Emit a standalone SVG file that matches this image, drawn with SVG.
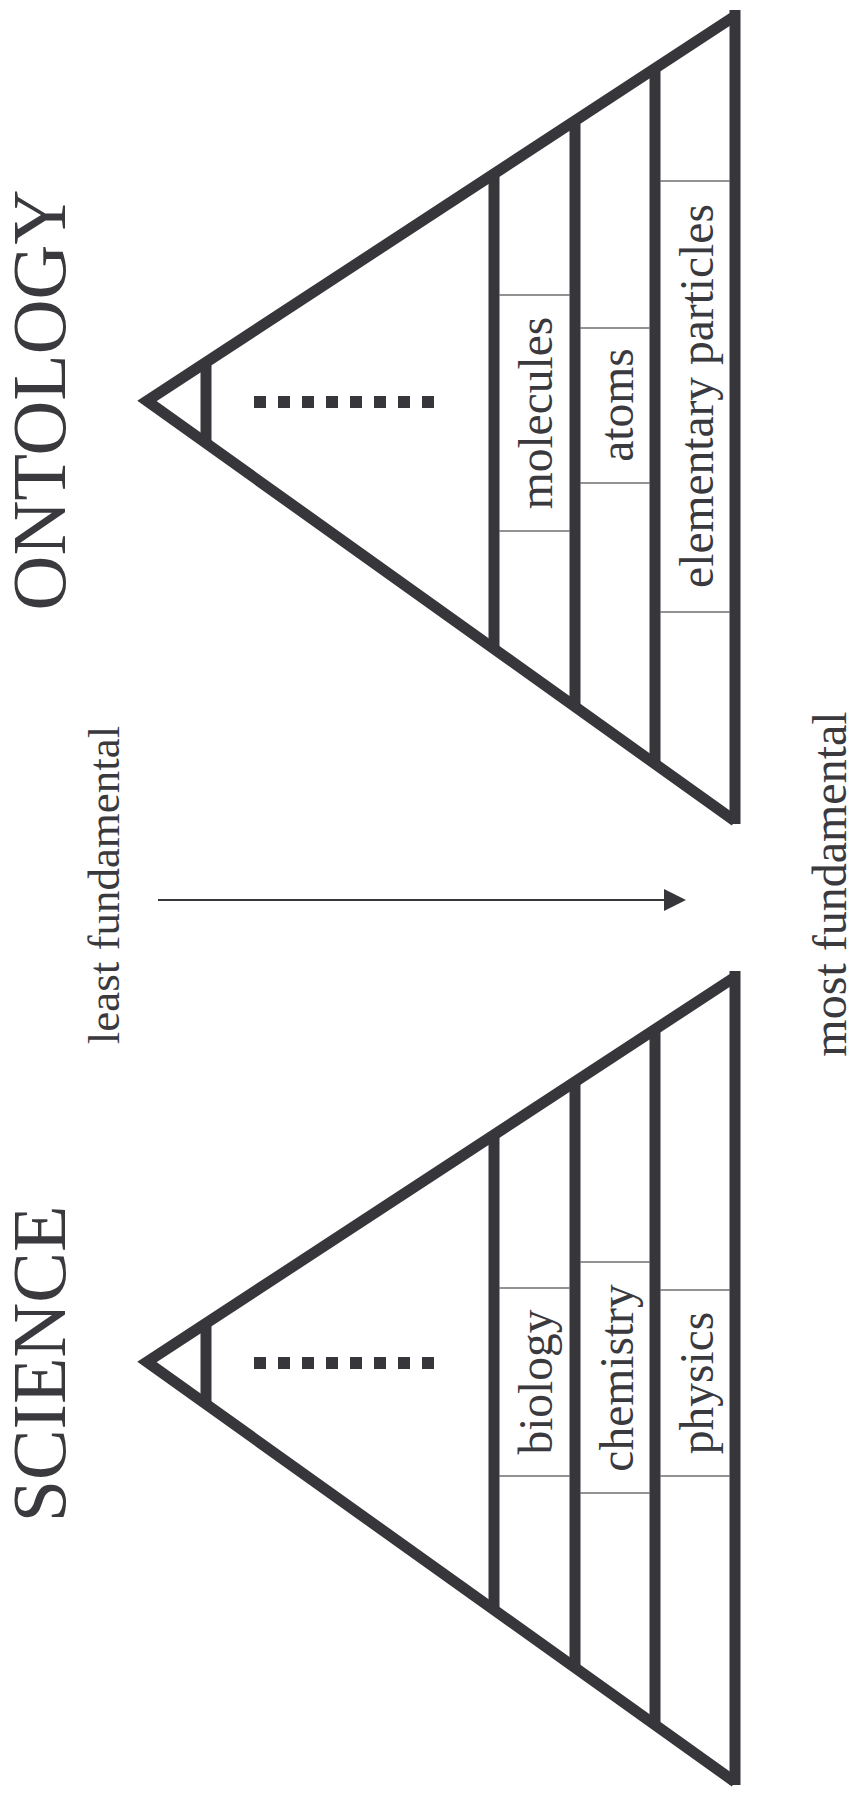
<svg xmlns="http://www.w3.org/2000/svg" width="858" height="1793" viewBox="0 0 858 1793">
<style>
.edge{fill:none;stroke:#37373b;stroke-width:11;stroke-linejoin:miter;stroke-linecap:butt}
.bar{stroke:#37373b;stroke-width:11;stroke-linecap:butt}
.thin{stroke:#6e6e72;stroke-width:1.6}
.dots{stroke:#37373b;stroke-width:12;stroke-dasharray:12 12}
.title{font-family:"Liberation Serif","Times New Roman",serif;font-size:76px;fill:#3a3a3e;text-anchor:middle}
.lbl{font-family:"Liberation Serif","Times New Roman",serif;font-size:47.5px;fill:#3a3a3e;text-anchor:middle}
.axis{font-family:"Liberation Serif","Times New Roman",serif;font-size:48px;fill:#3a3a3e;text-anchor:middle}
</style>
<defs>
<g id="pyr">
<polyline class="edge" points="735,16 147,401 735,821"/>
<line class="bar" x1="735" y1="10" x2="735" y2="824"/>
<line class="bar" x1="206" y1="362" x2="206" y2="443"/>
<line class="bar" x1="494" y1="174" x2="494" y2="649"/>
<line class="bar" x1="575" y1="121" x2="575" y2="707"/>
<line class="bar" x1="655" y1="68" x2="655" y2="764"/>
<line class="dots" x1="254" y1="402" x2="434" y2="402"/>
</g>
</defs>
<g id="ontology-pyramid">
<use href="#pyr"/>
<line class="thin" x1="499" y1="295" x2="570" y2="295"/>
<line class="thin" x1="499" y1="531" x2="570" y2="531"/>
<line class="thin" x1="580" y1="328" x2="650" y2="328"/>
<line class="thin" x1="580" y1="483" x2="650" y2="483"/>
<line class="thin" x1="660" y1="181" x2="730" y2="181"/>
<line class="thin" x1="660" y1="612" x2="730" y2="612"/>
</g>
<g id="science-pyramid">
<use href="#pyr" y="961"/>
<line class="thin" x1="499" y1="1288" x2="570" y2="1288"/>
<line class="thin" x1="499" y1="1476" x2="570" y2="1476"/>
<line class="thin" x1="580" y1="1262" x2="650" y2="1262"/>
<line class="thin" x1="580" y1="1493" x2="650" y2="1493"/>
<line class="thin" x1="660" y1="1290" x2="730" y2="1290"/>
<line class="thin" x1="660" y1="1476" x2="730" y2="1476"/>
</g>
<g id="label-molecules"><text class="lbl" transform="translate(552,413) rotate(-90)">molecules</text></g>
<g id="label-atoms"><text class="lbl" transform="translate(633,405) rotate(-90)">atoms</text></g>
<g id="label-elementary"><text class="lbl" transform="translate(713,396) rotate(-90)">elementary particles</text></g>
<g id="label-biology"><text class="lbl" transform="translate(552,1382) rotate(-90)">biology</text></g>
<g id="label-chemistry"><text class="lbl" transform="translate(633,1378) rotate(-90)">chemistry</text></g>
<g id="label-physics"><text class="lbl" transform="translate(713,1383) rotate(-90)">physics</text></g>
<g id="title-ontology"><text class="title" transform="translate(65,400) rotate(-90)">ONTOLOGY</text></g>
<g id="title-science"><text class="title" transform="translate(65,1364) rotate(-90)">SCIENCE</text></g>
<g id="label-least"><text class="axis" style="font-size:45px" transform="translate(119,885) rotate(-90)">least fundamental</text></g>
<g id="label-most"><text class="axis" transform="translate(846,884) rotate(-90)">most fundamental</text></g>
<g id="connectors">
<line x1="158" y1="900" x2="668" y2="900" stroke="#37373b" stroke-width="2"/>
<polygon points="664,889 686,900 664,911" fill="#37373b"/>
</g>
</svg>
